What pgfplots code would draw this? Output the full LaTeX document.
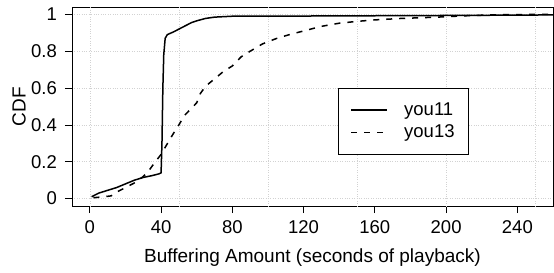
\documentclass[border=0pt]{standalone}
\usepackage{fontspec}
\setmainfont{Liberation Sans}
\usepackage{pgfplots}
\pgfplotsset{compat=1.18}
\begin{document}
\fontsize{18bp}{21bp}\selectfont
\begin{tikzpicture}
\useasboundingbox (-72bp,-67bp) rectangle (482bp,206bp);
\begin{axis}[
  at={(0,0)}, anchor=south west,
  scale only axis, width=481bp, height=199bp,
  xmin=-10, xmax=260, ymin=-0.04, ymax=1.04,
  axis line style={line width=0.9bp},
  xtick={0,40,...,240}, ytick={0,0.2,...,1},
  yticklabels={0,0.2,0.4,0.6,0.8,1},
  tick align=outside, major tick length=7bp,
  tick style={black, line width=0.8bp},
  xtick pos=bottom, ytick pos=left,
  ymajorgrids,
  extra x ticks={0,50,...,250}, extra x tick labels={},
  extra x tick style={grid=major, major tick length=0pt},
  grid style={dotted, gray!35, line width=0.6bp},
  /pgf/number format/assume math mode=true,
  ticklabel style={font=\fontsize{18.5bp}{21bp}\selectfont},
  xticklabel style={inner sep=0pt, anchor=north, yshift=-7bp},
  yticklabel style={inner sep=0pt, anchor=east, xshift=-8bp},
  xlabel={Buffering Amount (seconds of playback)},
  ylabel={CDF},
  label style={font=\fontsize{19bp}{21bp}\selectfont},
  xlabel style={at={(axis description cs:0.5,0)}, anchor=base, yshift=-56.3bp, inner sep=0pt},
  ylabel style={at={(axis description cs:0,0.5)}, anchor=center, rotate=0, yshift=53bp, inner sep=0pt},
  legend style={at={(0.8254,0.593)}, anchor=north east, draw=black, line width=0.8bp,
    inner xsep=12bp, inner ysep=12bp, row sep=3bp,
    font=\fontsize{18.5bp}{21bp}\selectfont,
    nodes={inner sep=2bp}},
  legend cell align=left,
  legend image code/.code={\draw[#1] (0bp,0bp) -- (36bp,0bp);},
  /tikz/every odd column/.append style={column sep=14bp},
]
\addplot[black, line width=1.5bp] coordinates {
(1,0.01) (5,0.03) (10,0.045) (15,0.06) (20,0.08) (25,0.1) (30,0.115) (35,0.125) (39,0.135) (40,0.14)
(40.5,0.3) (41,0.6) (41.5,0.78) (42.3,0.87) (43.5,0.89) (47,0.905) (50,0.92) (53,0.935) (57,0.955)
(60,0.965) (65,0.978) (70,0.985) (80,0.99) (120,0.991) (200,0.994) (260,0.997)
};
\addlegendentry{you11}
\addplot[black, line width=1.5bp, dash pattern=on 6bp off 7bp] coordinates {
(2,0.005) (8,0.01) (12,0.015) (16,0.04) (20,0.06) (25,0.085) (30,0.12) (33,0.15) (36,0.19) (40,0.24)
(43,0.29) (47,0.355) (50,0.40) (53,0.45) (57,0.49) (60,0.52) (62,0.57) (65,0.61) (70,0.65) (75,0.69)
(80,0.72) (85,0.77) (90,0.8) (97,0.84) (105,0.87) (112,0.89) (120,0.91) (130,0.935) (140,0.952)
(150,0.962) (160,0.97) (175,0.978) (195,0.985) (210,0.992) (225,0.997) (240,0.999) (260,1)
};
\addlegendentry{you13}
\end{axis}
\end{tikzpicture}
\end{document}
